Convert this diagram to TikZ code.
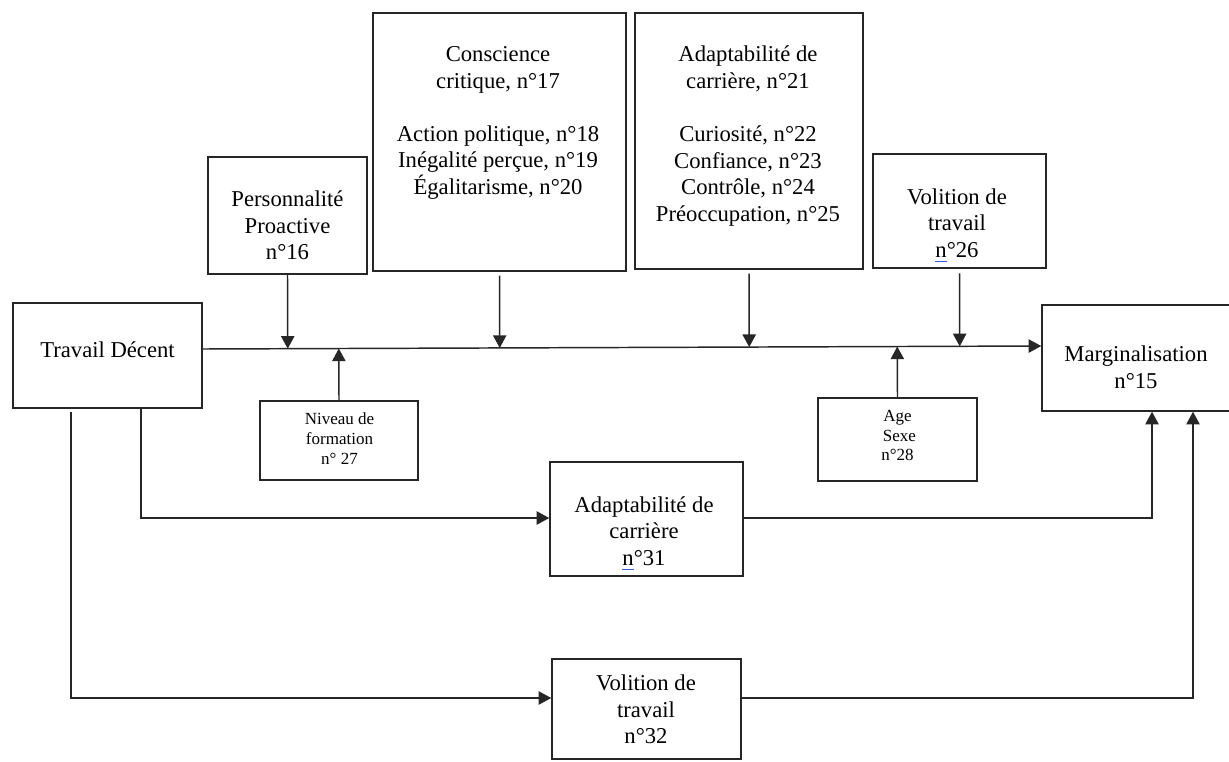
\documentclass[tikz,border=0pt]{standalone}
\usepackage{fontspec}
\setmainfont{Liberation Serif}
\usetikzlibrary{arrows.meta,calc,fit}
\definecolor{spell}{RGB}{60,90,220}
% "n" with the blue proofing underline under it
\newcommand\spelln{\rlap{\smash{\textcolor{spell}{\rule[-3.2pt]{0.5em}{0.7pt}}}}n}

\begin{document}
\begin{tikzpicture}[x=0.75pt,y=-0.75pt,
  box/.style={draw=black!85, line width=1.1pt, inner sep=0pt},
  big/.style={font=\fontsize{17}{19.9}\selectfont, align=center, inner sep=0pt},
  small/.style={font=\fontsize{12.75}{14.8}\selectfont, align=center, inner sep=0pt},
  link/.style={draw=black!85, line width=1.1pt},
  arr/.style={link, -{Triangle[length=9.5pt,width=10pt]}}]

\fill[white] (0,0) rectangle (1229,761);
\useasboundingbox (0,0) rectangle (1229,761);

% ---- boxes ----
\node[box, fit={(13,303) (202,408)}]   (td)   {};
\node[box, fit={(208,157) (367,274)}]  (pers) {};
\node[box, fit={(373,13) (626,271)}]   (cc)   {};
\node[box, fit={(635,13) (863,269)}]   (ad)   {};
\node[box, fit={(873,154) (1046,268)}] (vt)   {};
\node[box, fit={(1042,305) (1240,411)}] (mg)  {};
\node[box, fit={(260,401) (418,480)}]  (niv)  {};
\node[box, fit={(818,398) (977,481)}]  (age)  {};
\node[box, fit={(550,462) (743,576)}]  (a31)  {};
\node[box, fit={(552,659) (741,759)}]  (v32)  {};

% ---- texts ----
\node[big] (td-t)   at (107.5,350) {Travail Décent};
\node[big] (pers-t) at (287.5,225.5) {Personnalité\\Proactive\\n°16};
\node[big] (cc-t)   at (498,123) {Conscience\\critique, n°17\\[19.9pt]Action politique, n°18\\Inégalité perçue, n°19\\Égalitarisme, n°20};
\node[big] (ad-t)   at (748,136) {Adaptabilité de\\carrière, n°21\\[19.9pt]Curiosité, n°22\\Confiance, n°23\\Contrôle, n°24\\Préoccupation, n°25};
\node[big] (vt-t)   at (957,223) {Volition de\\travail\\\spelln°26};
\node[big] (mg-t)   at (1136,367) {Marginalisation\\n°15};
\node[small] (niv-t) at (339.5,438.5) {Niveau de\\formation\\n° 27};
\node[small] (age-t) at (897.5,435.5) {Age\\\hspace*{3pt}Sexe\\n°28};
\node[big] (a31-t)  at (644,531) {Adaptabilité de\\carrière\\\spelln°31};
\node[big] (v32-t)  at (646,709.5) {Volition de\\travail\\n°32};

% ---- direct path and its moderators ----
\coordinate (l1) at (td.east |- 0,349);
\coordinate (l2) at (mg.west |- 0,346);
\draw[arr] (l1) -- (l2);

\draw[arr] (pers.south) -- ($(l1)!(pers.south)!(l2)$);
\draw[arr, shorten <=3pt] (cc.south) -- ($(l1)!(cc.south)!(l2)$);
\draw[arr, shorten <=3pt] (ad.south) -- ($(l1)!(ad.south)!(l2)$);
\draw[arr, shorten <=3.5pt] (vt.south) -- ($(l1)!(vt.south)!(l2)$);
\draw[arr] (niv.north) -- ($(l1)!(niv.north)!(l2)$);
\draw[arr] (age.north) -- ($(l1)!(age.north)!(l2)$);

% ---- mediated paths ----
\coordinate (b1) at (141,518);
\coordinate (b2) at (71,698);
\coordinate (c1) at (1152,518);
\coordinate (c2) at (1193,698);

\draw[arr] (td.south -| b1) -- (b1) -- (a31.west |- b1);
\draw[arr, shorten <=2.3pt] (td.south -| b2) -- (b2) -- (v32.west |- b2);
\draw[arr] (a31.east |- c1) -| (c1 |- mg.south);
\draw[arr] (v32.east |- c2) -| (c2 |- mg.south);
\end{tikzpicture}
\end{document}
